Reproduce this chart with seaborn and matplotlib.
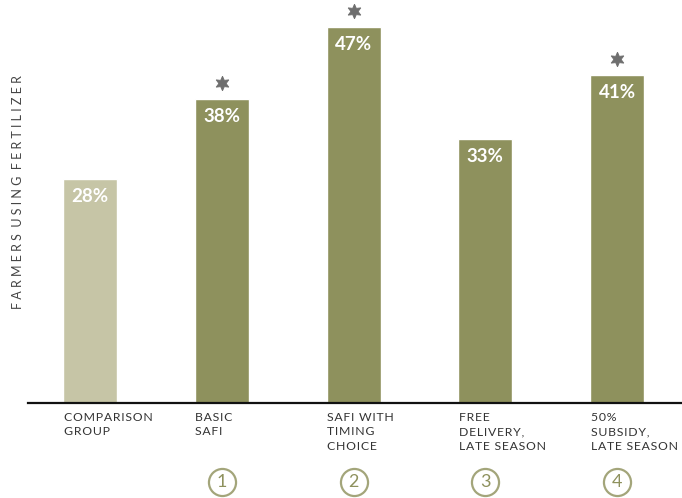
import matplotlib
matplotlib.use("Agg")
import matplotlib.pyplot as plt
import matplotlib.transforms as mtransforms
import seaborn as sns
import pandas as pd

categories = ["COMPARISON\nGROUP", "BASIC\nSAFI", "SAFI WITH\nTIMING\nCHOICE",
              "FREE\nDELIVERY,\nLATE SEASON", "50%\nSUBSIDY,\nLATE SEASON"]
values = [28, 38, 47, 33, 41]
significant = [False, True, True, False, True]
circle_numbers = ["", "1", "2", "3", "4"]
y_label = "FARMERS USING FERTILIZER"

light = "#c6c5a6"
olive = "#8e915d"
palette = [light, olive, olive, olive, olive]

sns.set_theme(style="white")
plt.rcParams["font.family"] = ["Lato", "DejaVu Sans"]

df = pd.DataFrame({"cat": categories, "val": values})

fig = plt.figure(figsize=(6.82, 4.98), dpi=100)
ax = fig.add_axes([28 / 682, 95 / 498, 654 / 682, 400 / 498])

sns.barplot(data=df, x="cat", y="val", hue="cat", palette=palette,
            width=0.41, legend=False, ax=ax, saturation=1)

ax.set_ylim(0, 50)
ax.set_xlim(-0.4706, 4.493)
for s in ["top", "right", "left"]:
    ax.spines[s].set_visible(False)
ax.spines["bottom"].set_color("#111111")
ax.spines["bottom"].set_linewidth(1.6)
ax.set_yticks([])
ax.set_xticks([])
ax.set_xlabel("")
ax.set_ylabel("")

bw = 0.41
blend = mtransforms.blended_transform_factory(ax.transData, ax.transAxes)
HAIR = "\u200a"

def spaced(s, gap=HAIR):
    return "\n".join(gap.join(list(line)) for line in s.split("\n"))

for i, (v, sig, lab, num) in enumerate(zip(values, significant, categories, circle_numbers)):
    ax.text(i, v - 2.2, f"{v}%", ha="center", va="center", color="white",
            fontsize=13.5, fontweight="bold")
    if sig:
        ax.plot(i, v + 2.0, marker=(6, 1, 0), markersize=10.5, color="#6e6e6e",
                markeredgewidth=0.6, clip_on=False)
    ax.text(i - bw / 2 + 0.005, -0.022, spaced(lab), transform=blend, ha="left", va="top",
            fontsize=8.8, color="#333333", linespacing=1.4)
    if num:
        ax.plot(i, -0.198, marker="o", markersize=19.5, mfc="white", mec="#a3a57a",
                mew=1.6, transform=blend, clip_on=False)
        ax.text(i, -0.198, num, transform=blend, ha="center", va="center",
                fontsize=13, color="#8e915d")

fig.text(18 / 682, 1 - 192 / 498, "  ".join(" ".join(list(w)) for w in y_label.split(" ")),
         rotation=90, ha="center", va="center", fontsize=9, color="#444444")

fig.savefig("out.png", dpi=100, facecolor="white")
